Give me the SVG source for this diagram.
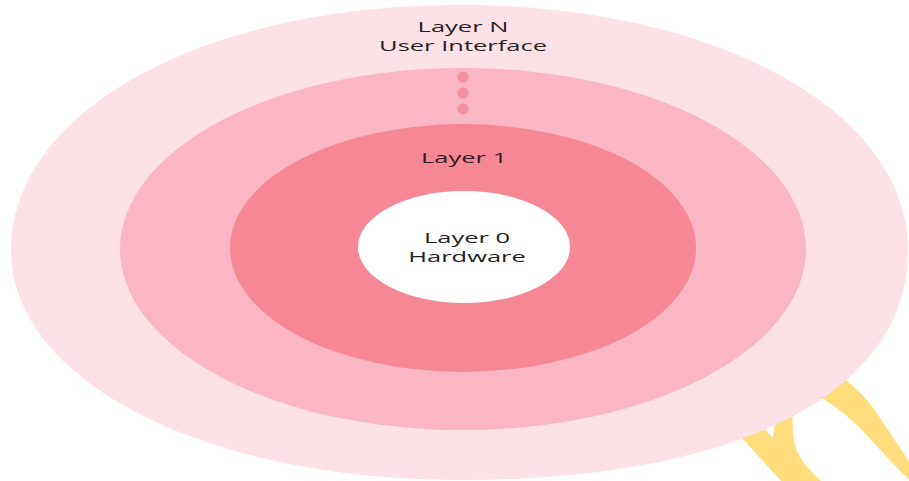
<svg xmlns="http://www.w3.org/2000/svg" width="909" height="481" viewBox="0 0 909 481">
  <style>
    .lbl { font-family: "Open Sans", "Noto Sans", "Liberation Sans", sans-serif; font-size: 15px; fill: #222222; text-anchor: middle; }
    .dark { fill: #34191f; }
    .yellow { fill: #FFDC7C; }
    .dot { fill: #F3909F; }
  </style>
  <rect x="0" y="0" width="909" height="481" fill="#ffffff"/>
  <g id="decoration">
    <path class="yellow" d="M 720 414 L 783 483 L 823 483 C 806 466, 797 458, 794 440 C 792 425, 792 410, 793 395 L 777 400 L 773 438 L 745 408 Z"/>
    <path class="yellow" d="M 830 368 C 850 382, 868 398, 880 418 L 925 485 L 925 495 L 915 486 L 883 453 C 867 435, 850 415, 820 397 L 805 392 Z"/>
  </g>
  <g id="layer-n">
    <path fill="#FDE1E7" d="M 11 250 C 11 110, 204 5, 460 5 C 715 5, 908 110, 908 250 C 908 393, 738 480, 460 480 C 204 480, 11 381, 11 250 Z"/>
    <g transform="translate(463 0) scale(1.7 1)">
      <text class="lbl" x="0" y="32">Layer N</text>
      <text class="lbl" x="0" y="51">User Interface</text>
    </g>
  </g>
  <g id="intermediate-layers">
    <ellipse cx="463" cy="249" rx="343" ry="181" fill="#FAB6C4"/>
    <circle class="dot" cx="463" cy="77" r="5.5"/>
    <circle class="dot" cx="463" cy="93" r="5.5"/>
    <circle class="dot" cx="463" cy="109" r="5.5"/>
  </g>
  <g id="layer-1">
    <ellipse cx="463" cy="248" rx="233" ry="124" fill="#F68896"/>
    <g transform="translate(464 0) scale(1.7 1)">
      <text class="lbl dark" x="0" y="163">Layer 1</text>
    </g>
  </g>
  <g id="layer-0">
    <ellipse cx="464" cy="247" rx="106" ry="56" fill="#ffffff"/>
    <g transform="translate(467 0) scale(1.7 1)">
      <text class="lbl" x="0" y="243">Layer 0</text>
      <text class="lbl" x="0" y="262">Hardware</text>
    </g>
  </g>
  <g id="connectors"/>
</svg>
